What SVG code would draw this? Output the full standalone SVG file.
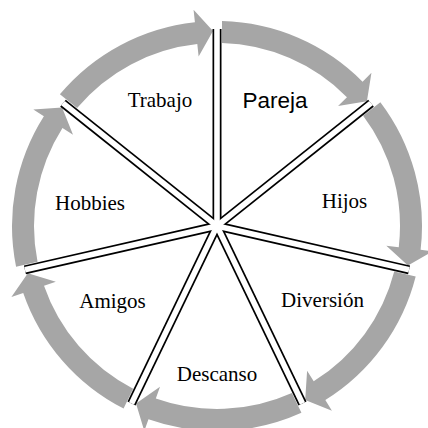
<svg xmlns="http://www.w3.org/2000/svg" xmlns:xlink="http://www.w3.org/1999/xlink" width="428" height="428" viewBox="0 0 428 428">
  <style>
    .arrow { fill: #a6a6a6; stroke: none; }
    .spoke-o { stroke: #000; stroke-width: 9; fill: none; }
    .spoke-i { stroke: #fff; stroke-width: 5.6; fill: none; }
    .lbl { font-family: "Liberation Serif", "Times New Roman", serif; font-size: 21px; fill: #000; text-anchor: middle; }
    .lbl-sans { font-family: "Liberation Sans", Arial, sans-serif; font-size: 22.5px; fill: #000; text-anchor: middle; }
  </style>
  <defs>
    <path id="seg" d="M 5,-204.94 A 205 205 0 0 1 145.57,-144.34 L 154.45,-153.14 L 149.92,-124.68 L 121.07,-120.05 L 129.95,-128.85 A 183 183 0 0 0 5,-182.93 Z"/>
    <line id="spk" x1="0" y1="0" x2="0" y2="-197"/>
  </defs>
  <rect width="428" height="428" fill="#fff"/>

  <g id="sector-pareja">
    <use xlink:href="#seg" href="#seg" class="arrow" transform="translate(217 226) rotate(0)"/>
    <text class="lbl-sans" x="275" y="108">Pareja</text>
  </g>
  <g id="sector-hijos">
    <use xlink:href="#seg" href="#seg" class="arrow" transform="translate(217 226) rotate(51.4286)"/>
    <text class="lbl" x="344.5" y="208">Hijos</text>
  </g>
  <g id="sector-diversion">
    <use xlink:href="#seg" href="#seg" class="arrow" transform="translate(217 226) rotate(102.8571)"/>
    <text class="lbl" x="322.5" y="307">Diversión</text>
  </g>
  <g id="sector-descanso">
    <use xlink:href="#seg" href="#seg" class="arrow" transform="translate(217 226) rotate(154.2857)"/>
    <text class="lbl" x="217" y="381">Descanso</text>
  </g>
  <g id="sector-amigos">
    <use xlink:href="#seg" href="#seg" class="arrow" transform="translate(217 226) rotate(205.7143)"/>
    <text class="lbl" x="112.5" y="308">Amigos</text>
  </g>
  <g id="sector-hobbies">
    <use xlink:href="#seg" href="#seg" class="arrow" transform="translate(217 226) rotate(257.1429)"/>
    <text class="lbl" x="90" y="210">Hobbies</text>
  </g>
  <g id="sector-trabajo">
    <use xlink:href="#seg" href="#seg" class="arrow" transform="translate(217 226) rotate(308.5714)"/>
    <text class="lbl" x="160" y="107">Trabajo</text>
  </g>

  <g id="connectors" transform="translate(217 226)">
    <g class="spoke-o">
      <use xlink:href="#spk" href="#spk" transform="rotate(0)"/>
      <use xlink:href="#spk" href="#spk" transform="rotate(51.4286)"/>
      <use xlink:href="#spk" href="#spk" transform="rotate(102.8571)"/>
      <use xlink:href="#spk" href="#spk" transform="rotate(154.2857)"/>
      <use xlink:href="#spk" href="#spk" transform="rotate(205.7143)"/>
      <use xlink:href="#spk" href="#spk" transform="rotate(257.1429)"/>
      <use xlink:href="#spk" href="#spk" transform="rotate(308.5714)"/>
    </g>
    <g class="spoke-i">
      <use xlink:href="#spk" href="#spk" transform="rotate(0)"/>
      <use xlink:href="#spk" href="#spk" transform="rotate(51.4286)"/>
      <use xlink:href="#spk" href="#spk" transform="rotate(102.8571)"/>
      <use xlink:href="#spk" href="#spk" transform="rotate(154.2857)"/>
      <use xlink:href="#spk" href="#spk" transform="rotate(205.7143)"/>
      <use xlink:href="#spk" href="#spk" transform="rotate(257.1429)"/>
      <use xlink:href="#spk" href="#spk" transform="rotate(308.5714)"/>
    </g>
  </g>
</svg>
